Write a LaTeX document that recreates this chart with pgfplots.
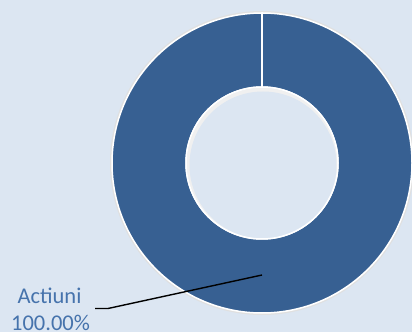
\documentclass[border=0pt]{standalone}
\usepackage{pgfplots}
\pgfplotsset{compat=1.18}
\usepackage{pgfplotstable}
\usepackage{fontspec}
\setmainfont{Carlito}
\definecolor{bg}{HTML}{DCE6F2}
\definecolor{slice}{HTML}{376092}
\definecolor{lbl}{HTML}{4673AC}
\pgfplotstableread{
label value
Actiuni 100
}\data
\begin{document}
\begin{tikzpicture}
\pgfplotstablegetelem{0}{value}\of\data
\pgfmathsetmacro{\sweep}{3.6*\pgfplotsretval}
\begin{axis}[x=1pt,y=1pt,xmin=0,xmax=412,ymin=0,ymax=332,hide axis,clip=true,
  axis background/.style={fill=bg}]
\fill[bg] (axis cs:0,0) rectangle (axis cs:412,332);
% soft shadow
\fill[black!12] (axis cs:262,169) circle[radius=152pt];
\fill[bg] (axis cs:262,169) circle[radius=74pt];
% donut slice
\fill[slice,draw=white,line width=1.5pt]
  (axis cs:262,319) arc[start angle=90,delta angle=-\sweep,radius=150pt]
  -- (axis cs:262,245) arc[start angle=90,delta angle=\sweep,radius=76pt] -- cycle;
\fill[bg] (axis cs:262,169) circle[radius=75.2pt];
\fill[black!6] (axis cs:262,169) circle[radius=75.2pt];
\fill[bg] (axis cs:263,167) circle[radius=73.5pt];
\draw[white,line width=1.5pt] (axis cs:262,169) circle[radius=76pt];
\draw[white,line width=1.5pt] (axis cs:262,245) -- (axis cs:262,319);
% leader line
\draw[black,line width=1.4pt] (axis cs:95,23.5) -- (axis cs:108,23.5) -- (axis cs:262,57);
\node[lbl,align=center,font=\fontsize{22.5}{28}\selectfont,anchor=base] at (axis cs:49.5,29) {Actiuni};
\node[lbl,align=center,font=\fontsize{22.5}{28}\selectfont,anchor=base] at (axis cs:50.5,2) {100.00\%};
\end{axis}
\end{tikzpicture}
\end{document}
